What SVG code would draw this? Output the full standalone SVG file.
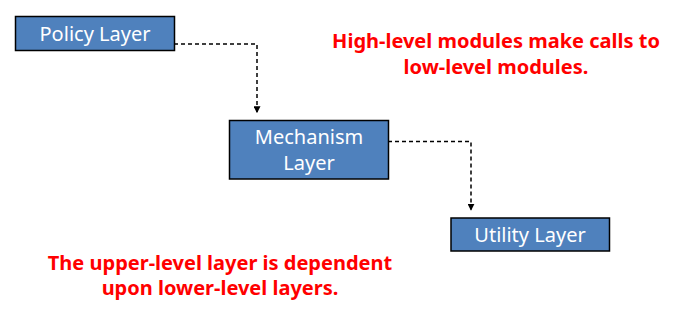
<svg xmlns="http://www.w3.org/2000/svg" width="679" height="320" viewBox="0 0 679 320">
<defs>
<style>
.box{fill:#4F81BD;stroke:#000;stroke-width:1.5}
.lbl{fill:#fff;font-family:"Noto Sans","Noto Sans CJK KR",sans-serif;font-size:20px;text-anchor:middle}
.note{fill:#FF0000;font-family:"Noto Sans","Noto Sans CJK KR",sans-serif;font-size:20px;font-weight:bold;text-anchor:middle}
.conn{fill:none;stroke:#000;stroke-width:1.5;stroke-dasharray:4,3}
</style>
<marker id="arr" viewBox="0 0 10 10" refX="9" refY="5" markerWidth="7" markerHeight="7" orient="auto" markerUnits="userSpaceOnUse">
<path d="M0,0 L10,5 L0,10 z" fill="#000"/>
</marker>
</defs>
<rect width="679" height="320" fill="#fff"/>
<g id="connectors">
<path class="conn" d="M174,44 H257 V112.5" marker-end="url(#arr)"/>
<path class="conn" d="M388,141.5 H471 V210" marker-end="url(#arr)"/>
</g>
<g id="policy">
<rect class="box" x="15.5" y="16.5" width="159" height="34"/>
<text class="lbl" x="95" y="41">Policy Layer</text>
</g>
<g id="mechanism">
<rect class="box" x="229.5" y="120.5" width="159" height="58.5"/>
<text class="lbl" x="309" y="144">Mechanism</text>
<text class="lbl" x="309" y="170">Layer</text>
</g>
<g id="utility">
<rect class="box" x="451" y="218" width="158.5" height="33"/>
<text class="lbl" x="530" y="242">Utility Layer</text>
</g>
<g id="notes">
<text class="note" x="496" y="48">High-level modules make calls to</text>
<text class="note" x="496" y="74">low-level modules.</text>
<text class="note" x="220" y="270">The upper-level layer is dependent</text>
<text class="note" x="220" y="295">upon lower-level layers.</text>
</g>
</svg>
